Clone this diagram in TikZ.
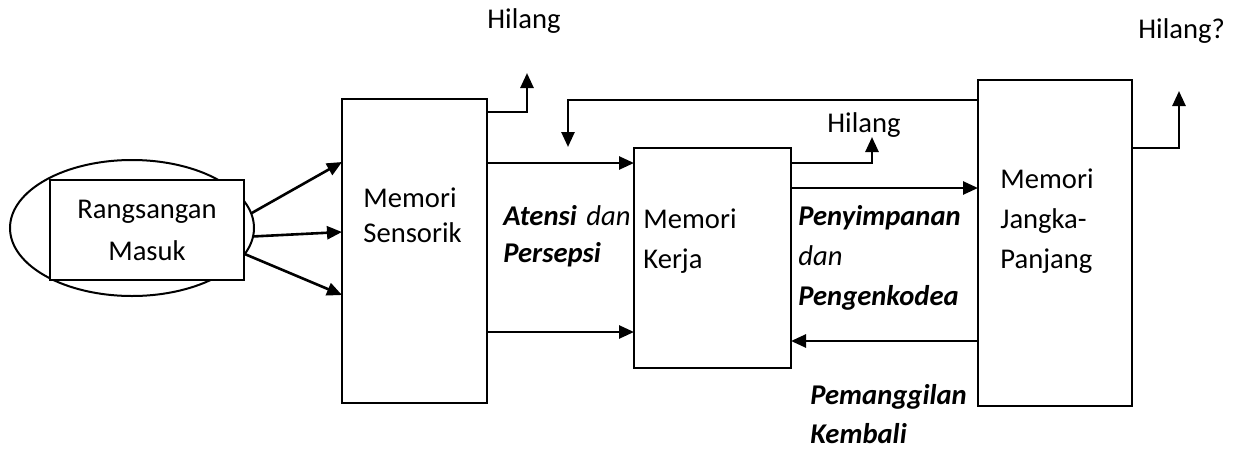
\documentclass[tikz,border=0pt]{standalone}
\usepackage{fontspec}
\setmainfont{Carlito}
\usetikzlibrary{arrows.meta,shapes.geometric}

\begin{document}
\begin{tikzpicture}[x=0.5pt,y=-0.5pt,
  font=\fontsize{14.3}{20}\selectfont,
  box/.style={draw,line width=1pt,inner sep=0pt,outer sep=0pt},
  arr/.style={line width=1.3pt,-{Triangle[length=7.5pt,width=6.5pt]}},
  lbl/.style={anchor=base west,inner sep=0pt},
  txt/.style={anchor=base west,inner sep=0pt,align=left,text width=#1}]
\useasboundingbox (0,0) rectangle (1238,450);
\node[box,ellipse,minimum width=122pt,minimum height=68pt] (stim) at (132,228) {};
\node[box,fill=white,minimum width=97pt,minimum height=50pt] (masuk) at (147,230) {};
\node[box,minimum width=72.5pt,minimum height=152pt] (sens) at (414.5,251) {};
\node[box,minimum width=78.5pt,minimum height=110pt] (kerja) at (712.5,258) {};
\node[box,minimum width=77pt,minimum height=163pt] (ltm) at (1055,243) {};

\node[anchor=base,inner sep=0pt,align=center,text width=90pt,font=\fontsize{14.3}{21}\selectfont] (trm) at (147,218) {Rangsangan\\Masuk};
\node[txt=70pt,font=\fontsize{14.3}{17.5}\selectfont] (tsens) at (363,207) {Memori\\Sensorik};
\node[txt=100pt,font=\fontsize{14.3}{18.5}\selectfont] (tatensi) at (503,225) {\textbf{\textit{Atensi}} \textit{dan}\\\textbf{\textit{Persepsi}}};
\node[txt=70pt] (tkerja) at (643,228) {Memori\\Kerja};
\node[txt=100pt] (tsimpan) at (798,225) {\textbf{\textit{Penyimpanan}}\\\textit{dan}\\\textbf{\textit{Pengenkodea}}};
\node[txt=100pt,font=\fontsize{14.3}{19.5}\selectfont] (tpanggil) at (810,404) {\textbf{\textit{Pemanggilan}}\\\textbf{\textit{Kembali}}};
\node[txt=70pt] (tltm) at (1000,188) {Memori\\Jangka-\\Panjang};
\node[lbl] (lost1) at (487,28) {Hilang};
\node[lbl] (lost2) at (827,132) {Hilang};
\node[lbl] (lost3) at (1138,38) {Hilang?};

\coordinate (up1) at (527,73);
\coordinate (back) at (568,147);
\coordinate (up2) at (872,137);
\coordinate (up3) at (1179,91);

\draw[arr] (stim.7) -- (sens.west |- 0,162);
\draw[arr] (stim.-4) -- (sens.west |- 0,232);
\draw[arr] (stim.-13) -- (sens.west |- 0,295);
\draw[arr] (sens.east |- 0,112) -| (up1);
\draw[arr] (ltm.west |- 0,100) -| (back);
\draw[arr] (sens.east |- 0,163) -- (kerja.west |- 0,163);
\draw[arr] (sens.east |- 0,332) -- (kerja.west |- 0,332);
\draw[arr] (kerja.east |- 0,163) -| (up2);
\draw[arr] (kerja.east |- 0,188) -- (ltm.west |- 0,188);
\draw[arr] (ltm.west |- 0,341) -- (kerja.east |- 0,341);
\draw[arr] (ltm.east |- 0,148) -| (up3);
\end{tikzpicture}
\end{document}
